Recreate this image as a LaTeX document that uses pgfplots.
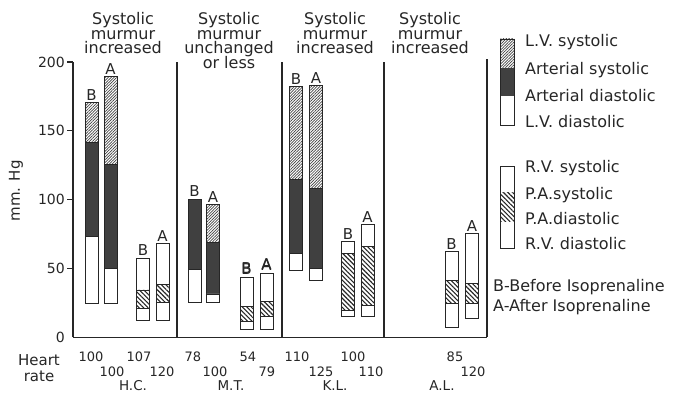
\documentclass[border=0pt]{standalone}
\usepackage{pgfplots}
\pgfplotsset{compat=1.18}
\usepackage{pgfplotstable}
\usetikzlibrary{patterns,patterns.meta}
\usepackage{fontspec}
\setmainfont{DejaVu Sans}

\pgfplotstableread{
x lvd ad as lvs lab
91.5 25 73 141.5 170.5 B
110.5 25 50.3 125.5 189.5 A
194.5 25.3 49.6 100.5 100.5 B
213 25.6 31.6 69 96.4 A
296 48.4 61.2 114.5 182.4 B
316 41.3 50.3 108 183 A
}\lvtable

\pgfplotstableread{
x rvd pad pas rvs lab
143 12.2 21.2 34.5 57.6 B
162.5 12.2 25.3 38.2 68 A
246.5 5.5 11.5 22.4 43.8 B
266.5 5.5 15.6 26 46.7 A
348 15.6 19.5 61.2 69.7 B
367.5 15.6 23.1 66 81.8 A
451.5 7.4 24.4 41.3 62.4 B
472 14 24.4 38.9 75.3 A
}\rvtable

\definecolor{ink}{gray}{0.15}
\tikzset{
 lvhatch/.style={pattern={Lines[angle=45,distance=2pt,line width=0.7pt]}, pattern color=black!75},
 rvhatch/.style={pattern={Lines[angle=-45,distance=3.2pt,line width=1.1pt]}, pattern color=ink},
 darkfill/.style={fill=black!75},
 segline/.style={draw=ink, line width=0.9pt},
 barlab/.style={font=\fontsize{15}{15}\selectfont, text=ink, anchor=south, inner sep=2pt},
}
\pgfplotsset{
 baseaxis/.style={at={(73pt,57.5pt)}, anchor=south west, scale only axis,
   width=414pt, height=275.5pt, xmin=73, xmax=487, ymin=0, ymax=200,
   clip=false},
 barsaxis/.style={baseaxis, ybar stacked, bar width=13pt},
 lab/.style={only marks, mark=none, nodes near coords={\pgfplotspointmeta}, point meta=explicit symbolic,
   every node near coord/.append style={barlab}},
}
\newcommand{\lo}[1]{\raisebox{-15pt}{#1}}
\newcommand{\titlefont}{\fontsize{16}{14.5}\selectfont\lineskiplimit=-20pt\relax}

\begin{document}
\begin{tikzpicture}
\useasboundingbox (0pt,0pt) rectangle (673pt,395pt);
\begin{axis}[barsaxis,
  axis x line=bottom, axis y line=left,
  axis line style={-, line width=1.1pt, ink},
  ytick={50,100,150,200}, extra y ticks={0},
  extra y tick style={tick style={draw=none}},
  ytick align=outside, major tick length=6pt,
  tick style={line width=1.1pt, ink},
  yticklabel style={font=\fontsize{14}{14}\selectfont, text=ink, inner sep=2pt},
  xtick={91,112,139,162,193,215,248,267,297,321,353,371,455,473},
  xticklabels={100,\lo{100},107,\lo{120},78,\lo{100},54,\lo{79},110,\lo{125},100,\lo{110},85,\lo{120}},
  xticklabel style={font=\fontsize{13}{13}\selectfont, text=ink, anchor=base, yshift=-21.5pt},
  x tick style={draw=none},
  /pgf/number format/assume math mode=true,
]
\addplot[draw=none, fill=none] table[x=x, y=lvd] {\lvtable};
\addplot[segline, fill=white] table[x=x, y expr=\thisrow{ad}-\thisrow{lvd}] {\lvtable};
\addplot[segline, darkfill] table[x=x, y expr=\thisrow{as}-\thisrow{ad}] {\lvtable};
\addplot[segline, lvhatch] table[x=x, y expr=\thisrow{lvs}-\thisrow{as}] {\lvtable};
\draw[line width=1.1pt, ink] (axis cs:177,0) -- (axis cs:177,200);
\draw[line width=1.1pt, ink] (axis cs:282,0) -- (axis cs:282,200);
\draw[line width=1.1pt, ink] (axis cs:384,0) -- (axis cs:384,200);
\draw[line width=1.1pt, ink] (axis cs:487,0) -- (axis cs:487,202);
\end{axis}
\begin{axis}[barsaxis, hide axis]
\addplot[draw=none, fill=none] table[x=x, y=rvd] {\rvtable};
\addplot[segline, fill=white] table[x=x, y expr=\thisrow{pad}-\thisrow{rvd}] {\rvtable};
\addplot[segline, rvhatch] table[x=x, y expr=\thisrow{pas}-\thisrow{pad}] {\rvtable};
\addplot[segline, fill=white] table[x=x, y expr=\thisrow{rvs}-\thisrow{pas}] {\rvtable};
\end{axis}
\begin{axis}[baseaxis, hide axis]
\addplot[lab] table[x=x, y=rvs, meta=lab] {\rvtable};
\addplot[lab] table[x=x, y=lvs, meta=lab] {\lvtable};
\node[barlab, yshift=1pt] at (axis cs:246.5,43.8) {B};
\node[barlab, yshift=1pt] at (axis cs:266.5,46.7) {A};
\end{axis}

% panel titles
\begin{scope}[every node/.style={anchor=north, inner sep=0pt, align=center, text=ink,
   font=\titlefont}]
\node at (123pt,382.5pt) {Systolic\\murmur\\increased};
\node at (229pt,382.5pt) {Systolic\\murmur\\unchanged\\or less};
\node at (335pt,382.5pt) {Systolic\\murmur\\increased};
\node at (430pt,382.5pt) {Systolic\\murmur\\increased};
\end{scope}

% axis titles
\node[rotate=90, text=ink, inner sep=0pt] at (16pt,204pt) {\fontsize{15}{15}\selectfont mm. Hg};
\node[anchor=base, inner sep=0pt, text=ink, font=\fontsize{15}{15}\selectfont] at (39pt,29pt) {Heart};
\node[anchor=base, inner sep=0pt, text=ink, font=\fontsize{15}{15}\selectfont] at (39pt,13pt) {rate};
\begin{scope}[every node/.style={anchor=north, inner sep=0pt, text=ink, font=\fontsize{13.5}{13.5}\selectfont}]
\node at (133pt,15pt) {H.C.};
\node at (231pt,15pt) {M.T.};
\node at (335pt,15pt) {K.L.};
\node at (442pt,15pt) {A.L.};
\end{scope}

% legend swatches
\fill[white] (500.7pt,270pt) rectangle (514pt,299pt);
\fill[black!75] (500.7pt,299pt) rectangle (514pt,327pt);
\path[lvhatch] (500.7pt,327pt) rectangle (514pt,356pt);
\draw[line width=0.9pt, ink] (500.7pt,270pt) rectangle (514pt,356pt);
\path[rvhatch] (500.7pt,173pt) rectangle (514pt,202pt);
\draw[line width=0.9pt, ink] (500.7pt,147pt) rectangle (514pt,229pt);

\begin{scope}[every node/.style={anchor=base west, inner sep=0pt, text=ink, font=\fontsize{16}{16}\selectfont}]
\node at (525pt,348pt) {L.V. systolic};
\node at (525pt,320pt) {Arterial systolic};
\node at (525pt,293pt) {Arterial diastolic};
\node at (525pt,267pt) {L.V. diastolic};
\node at (525pt,222pt) {R.V. systolic};
\node at (525pt,195pt) {P.A.systolic};
\node at (525pt,170pt) {P.A.diastolic};
\node at (525pt,145pt) {R.V. diastolic};
\node at (493pt,103pt) {B-Before Isoprenaline};
\node at (493pt,83pt) {A-After Isoprenaline};
\end{scope}
\end{tikzpicture}
\end{document}
